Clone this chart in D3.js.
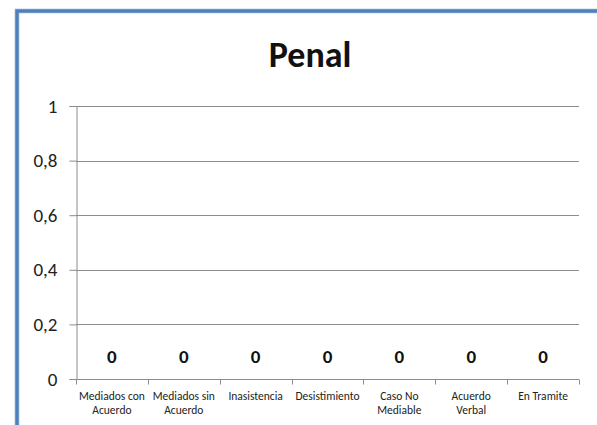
<!DOCTYPE html>
<html>
<head>
<meta charset="utf-8">
<script src="https://cdn.jsdelivr.net/npm/d3@7"></script>
<style>
  body { margin: 0; background: #fff; }
  svg { display: block; font-family: Calibri, Carlito, Lato, "Open Sans", sans-serif; }
</style>
</head>
<body>
<script>
var w = 597;
var h = 425;

// categories and values (every value is zero)
var categories = ["Mediados con\nAcuerdo", "Mediados sin\nAcuerdo", "Inasistencia", "Desistimiento", "Caso No\nMediable", "Acuerdo\nVerbal", "En Tramite"];
var values = [0, 0, 0, 0, 0, 0, 0];
var yTicks = [0, 0.2, 0.4, 0.6, 0.8, 1];
var title = "Penal";

var margin = { top: 106, right: 18, bottom: 46, left: 76 };

var svg = d3.select("body")
  .append("svg")
  .attr("width", w)
  .attr("height", h);

// blue frame (only top and left visible)
svg.append("rect")
  .attr("x", 17)
  .attr("y", 11)
  .attr("width", w + 20)
  .attr("height", h + 20)
  .attr("fill", "none")
  .attr("stroke", "#c6d6ea")
  .attr("stroke-width", 5);
svg.append("rect")
  .attr("x", 17)
  .attr("y", 11)
  .attr("width", w + 20)
  .attr("height", h + 20)
  .attr("fill", "none")
  .attr("stroke", "#4f81bd")
  .attr("stroke-width", 3.5);

var x = d3.scaleBand()
  .domain(d3.range(categories.length))
  .range([margin.left, w - margin.right])
  .padding(0);

var y = d3.scaleLinear()
  .domain([0, 1])
  .range([h - margin.bottom, margin.top]);

var locale = d3.formatLocale({ decimal: ",", thousands: ".", grouping: [3], currency: ["", "€"] });
var fmt = function(d) { return d === 0 || d === 1 ? String(d) : locale.format(".1f")(d); };

// gridlines
svg.append("g")
  .selectAll("line")
  .data(yTicks.filter(function(d) { return d > 0; }))
  .enter()
  .append("line")
  .attr("x1", margin.left)
  .attr("x2", w - margin.right)
  .attr("y1", function(d) { return Math.round(y(d)) + 0.5; })
  .attr("y2", function(d) { return Math.round(y(d)) + 0.5; })
  .attr("stroke", "#8c8c8c")
  .attr("stroke-width", 1);

// y axis
var yAxis = svg.append("g")
  .attr("transform", "translate(" + (margin.left + 0.5) + ",0)")
  .call(d3.axisLeft(y).tickValues(yTicks).tickFormat(fmt).tickSize(7).tickPadding(12))
  .attr("font-family", null)
  .attr("font-size", null);
yAxis.select(".domain").attr("stroke", "#8c8c8c");
yAxis.selectAll(".tick line").attr("stroke", "#8c8c8c");
yAxis.selectAll("text")
  .attr("font-size", 19)
  .attr("fill", "#222");

// x axis line with ticks at category boundaries
var baseY = Math.round(y(0)) + 0.5;
svg.append("line")
  .attr("x1", margin.left)
  .attr("x2", w - margin.right)
  .attr("y1", baseY)
  .attr("y2", baseY)
  .attr("stroke", "#8c8c8c");
svg.append("g")
  .selectAll("line")
  .data(d3.range(categories.length + 1))
  .enter()
  .append("line")
  .attr("x1", function(i) { return Math.round(margin.left + i * x.bandwidth()) + 0.5; })
  .attr("x2", function(i) { return Math.round(margin.left + i * x.bandwidth()) + 0.5; })
  .attr("y1", baseY)
  .attr("y2", baseY + 5)
  .attr("stroke", "#8c8c8c");

// category labels
var catText = svg.append("g")
  .selectAll("text")
  .data(categories)
  .enter()
  .append("text")
  .attr("text-anchor", "middle")
  .attr("font-size", 11.5)
  .attr("fill", "#222");
catText.each(function(d, i) {
  var t = d3.select(this);
  d.split("\n").forEach(function(line, j) {
    t.append("tspan")
      .attr("x", x(i) + x.bandwidth() / 2)
      .attr("y", 400 + j * 14)
      .text(line);
  });
});

// bars (zero height)
svg.append("g")
  .selectAll("rect")
  .data(values)
  .enter()
  .append("rect")
  .attr("x", function(d, i) { return x(i) + x.bandwidth() * 0.2; })
  .attr("width", x.bandwidth() * 0.6)
  .attr("y", function(d) { return y(d); })
  .attr("height", function(d) { return y(0) - y(d); })
  .attr("fill", "#4f81bd");

// value labels
svg.append("g")
  .selectAll("text")
  .data(values)
  .enter()
  .append("text")
  .attr("x", function(d, i) { return x(i) + x.bandwidth() / 2; })
  .attr("y", function(d) { return y(d) - 16; })
  .attr("text-anchor", "middle")
  .attr("font-size", 19)
  .attr("font-weight", "bold")
  .attr("fill", "#111")
  .text(function(d) { return fmt(d); });

// title
svg.append("text")
  .attr("x", 310)
  .attr("y", 67)
  .attr("text-anchor", "middle")
  .attr("font-size", 36)
  .attr("font-weight", "bold")
  .attr("fill", "#111")
  .text(title);
</script>
</body>
</html>
